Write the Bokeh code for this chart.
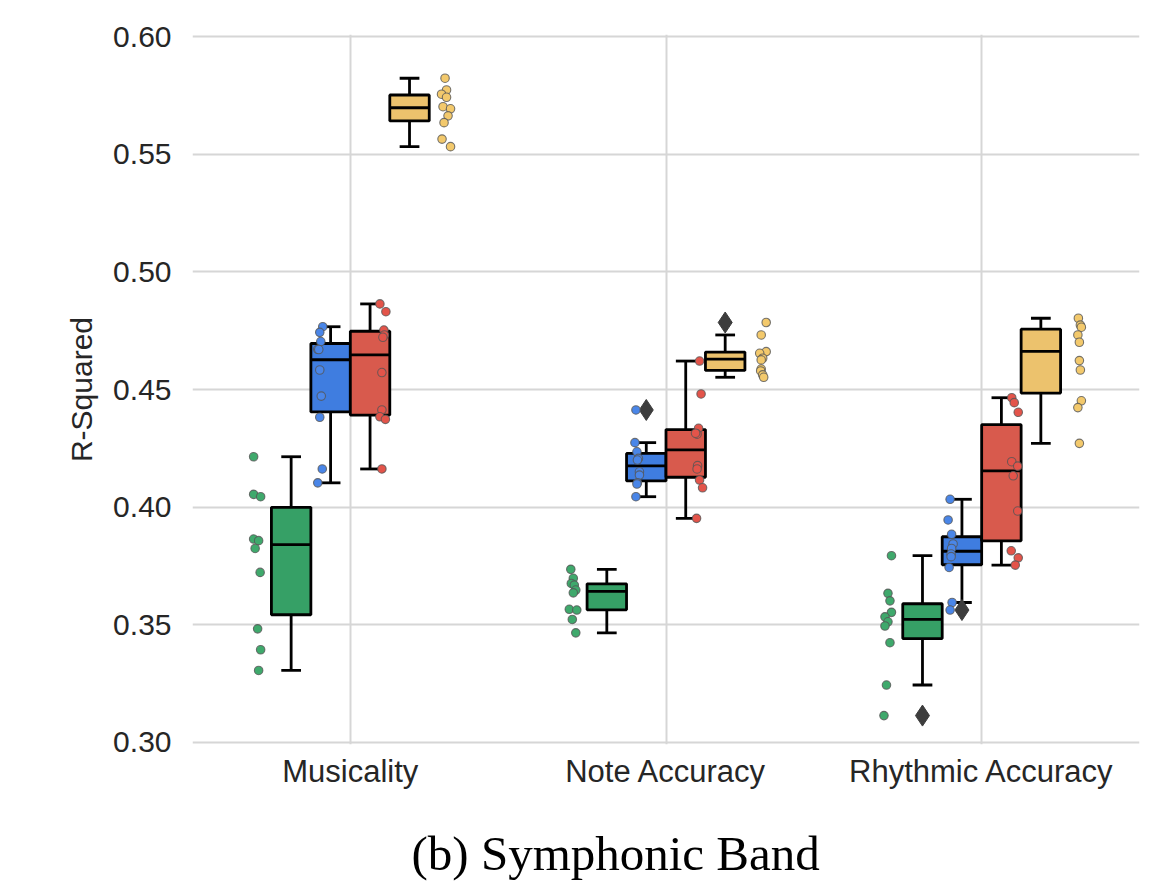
import numpy as np
from bokeh.plotting import figure
from bokeh.models import Range1d, FixedTicker, Title, PrintfTickFormatter
from bokeh.embed import file_html
from bokeh.resources import INLINE

# ---------------- data ----------------
categories = ["Musicality", "Note Accuracy", "Rhythmic Accuracy"]
y_ticks = [0.30, 0.35, 0.40, 0.45, 0.50, 0.55, 0.60]

# one list per category (Musicality, Note Accuracy, Rhythmic Accuracy)
green_vals = [
    [0.4214, 0.4054, 0.4044, 0.3864, 0.3857, 0.3824, 0.3722, 0.3482, 0.3393, 0.3305],
    [0.3735, 0.3697, 0.3675, 0.3668, 0.3647, 0.3635, 0.3565, 0.3562, 0.3522, 0.3465],
    [0.3793, 0.3633, 0.3601, 0.3552, 0.3533, 0.3512, 0.3494, 0.3423, 0.3243, 0.3113],
]
blue_vals = [
    [0.4767, 0.4743, 0.4704, 0.4671, 0.4670, 0.4583, 0.4472, 0.4382, 0.4162, 0.4103],
    [0.4413, 0.4274, 0.4235, 0.4207, 0.4200, 0.4150, 0.4136, 0.4103, 0.4098, 0.4044],
    [0.4033, 0.3945, 0.3884, 0.3843, 0.3824, 0.3800, 0.3789, 0.3743, 0.3594, 0.3562],
]
red_vals = [
    [0.4864, 0.4831, 0.4753, 0.4732, 0.4722, 0.4572, 0.4413, 0.4384, 0.4373, 0.4162],
    [0.4621, 0.4481, 0.4335, 0.4310, 0.4314, 0.4176, 0.4162, 0.4115, 0.4082, 0.3952],
    [0.4465, 0.4444, 0.4403, 0.4193, 0.4174, 0.4133, 0.3983, 0.3814, 0.3784, 0.3753],
]
yellow_vals = [
    [0.5824, 0.5774, 0.5756, 0.5743, 0.5703, 0.5694, 0.5664, 0.5635, 0.5565, 0.5533],
    [0.4785, 0.4732, 0.4661, 0.4654, 0.4633, 0.4626, 0.4587, 0.4579, 0.4562, 0.4552],
    [0.4803, 0.4774, 0.4765, 0.4732, 0.4701, 0.4623, 0.4583, 0.4452, 0.4423, 0.4271],
]

# strip-plot jitter (pixels)
green_jit = [
    [-2, -2, 5, -2, 3, -0.5, 4.5, 2, 5, 3],
    [-0.5, 2, 0, 3, 4.5, 2, -2, 5.5, 1, 4.5],
    [4.5, 1, 3, 4.5, -2, 1, -2, 3, -0.5, -3],
]
blue_jit = [
    [4, 1, 2, -1, 0, 1, 2.5, 1, 3.5, -1],
    [1.5, 0.5, 2.5, 4, 3, 5, 5, 3, 2.5, 1.5],
    [0, -2, 1.5, 3, 1.5, 1, 1, -1, 2, 0],
]
red_jit = [
    [-2, 4, 2, 2.5, 1, 0, 0, -2, 3.5, 0],
    [2, 3.5, 1, -0.5, -2, 0, -0.5, 2, 5, -1],
    [-1.5, 1, 5, -1.5, 4.5, 0, 4.5, -2, 5, 2],
]
yellow_jit = [
    [0, 1.5, -3.5, 1.5, -2, 5.5, 3, -1, -3, 5.5],
    [5.5, 0.5, 5.5, -1, 2, 0.5, 0.5, 0, 2, 3],
    [2, 4, 5, 1.5, 3, 3, 4, 5, 1.5, 3],
]

series_vals = [green_vals, blue_vals, red_vals, yellow_vals]
series_jit = [green_jit, blue_jit, red_jit, yellow_jit]
box_colors = ["#36a066", "#3f7de0", "#d85a4d", "#ecc26d"]
point_colors = ["#3fa96c", "#4a86e8", "#e3544a", "#f3c96c"]

# ---------------- layout ----------------
FRAME_W, FRAME_H = 947, 710
px_per_unit = FRAME_W / 3.0

p = figure(
    frame_width=FRAME_W, frame_height=FRAME_H,
    min_border_left=192, min_border_right=8, min_border_top=34, min_border_bottom=129,
    x_range=Range1d(-0.5, 2.5), y_range=Range1d(0.299, 0.601),
    output_backend="svg", toolbar_location=None,
)
p.outline_line_color = None
p.background_fill_color = "white"
p.border_fill_color = "white"

n_h = len(series_vals)
box_w = 0.5 / n_h
box_off = (np.arange(n_h) - (n_h - 1) / 2) * box_w
strip_off = (np.arange(n_h) - (n_h - 1) / 2) * (0.8 / n_h)
LW = 2.8

for h in range(n_h):
    xs, q1s, q3s, meds, los, his = [], [], [], [], [], []
    out_x, out_y = [], []
    pt_x, pt_y = [], []
    for c in range(len(categories)):
        v = np.array(series_vals[h][c])
        q1, med, q3 = np.percentile(v, [25, 50, 75])
        iqr = q3 - q1
        inside = v[(v >= q1 - 1.5 * iqr) & (v <= q3 + 1.5 * iqr)]
        outside = v[(v < q1 - 1.5 * iqr) | (v > q3 + 1.5 * iqr)]
        xc = c + box_off[h]
        xs.append(xc); q1s.append(q1); q3s.append(q3); meds.append(med)
        los.append(inside.min()); his.append(inside.max())
        out_x += [xc] * len(outside); out_y += list(outside)
        pt_x += list(c + strip_off[h] + np.array(series_jit[h][c]) / px_per_unit)
        pt_y += list(v)
    xs = np.array(xs)
    # whiskers
    p.segment(x0=xs, y0=q3s, x1=xs, y1=his, line_color="black", line_width=LW)
    p.segment(x0=xs, y0=q1s, x1=xs, y1=los, line_color="black", line_width=LW)
    # caps
    p.segment(x0=xs - box_w / 4, y0=his, x1=xs + box_w / 4, y1=his, line_color="black", line_width=LW)
    p.segment(x0=xs - box_w / 4, y0=los, x1=xs + box_w / 4, y1=los, line_color="black", line_width=LW)
    # box
    p.vbar(x=xs, width=box_w, top=q3s, bottom=q1s, fill_color=box_colors[h],
           line_color="black", line_width=LW)
    # median
    p.segment(x0=xs - box_w / 2, y0=meds, x1=xs + box_w / 2, y1=meds, line_color="black", line_width=LW)
    # outliers
    if out_x:
        p.scatter(x=out_x, y=out_y, marker="diamond", size=21, fill_color="#3d3d3d",
                  line_color="#3d3d3d", line_width=1)
    # strip points
    p.scatter(x=pt_x, y=pt_y, marker="circle", size=8.5, fill_color=point_colors[h],
              line_color="#555555", line_alpha=0.8, line_width=1.1)

# axes
p.xaxis.ticker = FixedTicker(ticks=list(range(len(categories))))
p.xaxis.major_label_overrides = {i: c for i, c in enumerate(categories)}
p.yaxis.ticker = FixedTicker(ticks=y_ticks)
p.yaxis.formatter = PrintfTickFormatter(format="%.2f")
for ax in (p.xaxis[0], p.yaxis[0]):
    ax.axis_line_color = None
    ax.major_tick_line_color = None
    ax.minor_tick_line_color = None
    ax.major_tick_out = 0
    ax.major_tick_in = 0
    ax.major_label_text_font = "Liberation Sans"
    ax.major_label_text_font_size = "30px"
    ax.major_label_text_color = "#262626"
p.xaxis.major_label_text_font_size = "31px"
p.xaxis.major_label_standoff = 9
p.yaxis.major_label_standoff = 21
p.yaxis.axis_label = "R-Squared"
p.yaxis.axis_label_text_font = "Liberation Sans"
p.yaxis.axis_label_text_font_size = "30px"
p.yaxis.axis_label_text_font_style = "normal"
p.yaxis.axis_label_text_color = "#262626"
p.yaxis.axis_label_standoff = 12

p.xgrid.grid_line_color = "#d6d6d6"
p.ygrid.grid_line_color = "#d6d6d6"
p.xgrid.grid_line_width = 2
p.ygrid.grid_line_width = 2

title = Title(text="(b) Symphonic Band", align="left", offset=219,
              text_font="Liberation Serif", text_font_size="49px",
              text_font_style="normal", text_color="black", standoff=64)
p.add_layout(title, "below")

open("out.html", "w").write(file_html(p, INLINE))
